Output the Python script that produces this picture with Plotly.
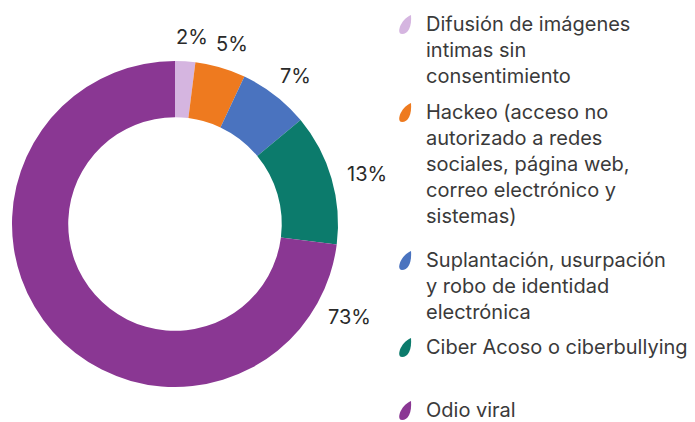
import math
import plotly.graph_objects as go

categories = [
    "Difusión de imágenes intimas sin consentimiento",
    "Hackeo (acceso no autorizado a redes sociales, página web, correo electrónico y sistemas)",
    "Suplantación, usurpación y robo de identidad electrónica",
    "Ciber Acoso o ciberbullying",
    "Odio viral",
]
legend_lines = [
    ["Difusión de imágenes", "intimas sin", "consentimiento"],
    ["Hackeo (acceso no", "autorizado a redes", "sociales, página web,", "correo electrónico y", "sistemas)"],
    ["Suplantación, usurpación", "y robo de identidad", "electrónica"],
    ["Ciber Acoso o ciberbullying"],
    ["Odio viral"],
]
values = [2, 5, 7, 13, 73]
colors = ["#d5b5e0", "#ee7a1f", "#4a73bf", "#0c7b6c", "#8a3793"]

W, H = 695, 422
CX, CY, R = 175, 224, 163   # pixel geometry of donut
HOLE = 0.655

def px(x):
    return x / W

def py(y):
    return 1 - y / H

fig = go.Figure(go.Pie(
    labels=categories,
    values=values,
    marker=dict(colors=colors, line=dict(width=0)),
    hole=HOLE,
    sort=False,
    direction="clockwise",
    rotation=0,
    textinfo="none",
    hoverinfo="label+percent",
    showlegend=False,
    domain=dict(x=[px(CX - R), px(CX + R)], y=[py(CY + R), py(CY - R)]),
))

annotations = []
shapes = []

# percentage labels around the ring
total = sum(values)
cum = 0
imax = values.index(max(values))
for i, v in enumerate(values):
    start = cum / total * 360
    mid = (cum + v / 2) / total * 360
    cum += v
    ang = start + 21 if i == imax else mid + 1.5
    a = math.radians(ang)
    text = f"{round(v / total * 100)}%"
    r = 187 + 0.3 * 20 * len(text) * abs(math.sin(a)) - 6 * abs(math.sin(a))
    x = CX + r * math.sin(a)
    y = CY - r * math.cos(a)
    annotations.append(dict(
        x=px(x), y=py(y), xref="paper", yref="paper", text=text, showarrow=False,
        xanchor="center", yanchor="middle",
        font=dict(family="Inter, Lato, sans-serif", size=20, color="#2a2a2a"),
    ))

# custom legend with leaf markers
group_y = [24, 112, 260, 347, 410]
LINE = 26
TX = 424
MX = 405
for g, lines in enumerate(legend_lines):
    y0 = group_y[g]
    for k, line in enumerate(lines):
        annotations.append(dict(
            x=px(TX), y=py(y0 + k * LINE), xref="paper", yref="paper", text=line,
            showarrow=False, xanchor="left", yanchor="middle",
            font=dict(family="Inter, Lato, sans-serif", size=20, color="#3a3a3a"),
        ))
    cx, cy = MX, y0 + 1
    pts = [
        (cx + 6, cy - 10),
        (cx - 5, cy - 5), (cx - 9, cy + 9), (cx - 3, cy + 9),
        (cx + 3, cy + 9), (cx + 7, cy + 2), (cx + 6, cy - 10),
    ]
    f = lambda p: f"{px(p[0]):.5f},{py(p[1]):.5f}"
    path = (f"M {f(pts[0])} C {f(pts[1])} {f(pts[2])} {f(pts[3])} "
            f"C {f(pts[4])} {f(pts[5])} {f(pts[6])} Z")
    shapes.append(dict(type="path", xref="paper", yref="paper", path=path,
                       fillcolor=colors[g], line=dict(width=0)))

fig.update_layout(
    width=W, height=H,
    margin=dict(l=0, r=0, t=0, b=0),
    paper_bgcolor="white",
    plot_bgcolor="white",
    annotations=annotations,
    shapes=shapes,
)

fig.write_html(
    "out.html",
    config={"displayModeBar": False},
    post_script="document.body.style.margin='0';document.body.style.overflow='hidden';",
)
